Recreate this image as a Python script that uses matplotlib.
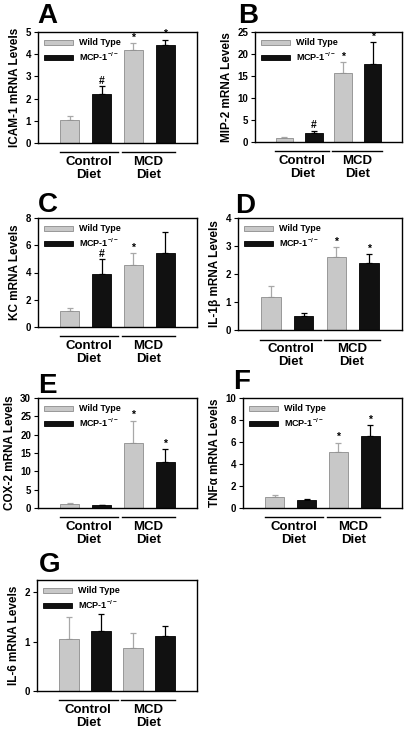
import matplotlib
matplotlib.use("Agg")
import matplotlib.pyplot as plt
from matplotlib.patches import Patch
from matplotlib.transforms import blended_transform_factory

plt.rcParams['font.family'] = ['Liberation Sans', 'DejaVu Sans']
plt.rcParams['font.weight'] = 'bold'
plt.rcParams['mathtext.fontset'] = 'custom'
plt.rcParams['mathtext.rm'] = 'Liberation Sans:bold'
plt.rcParams['mathtext.it'] = 'Liberation Sans:bold'
plt.rcParams['mathtext.bf'] = 'Liberation Sans:bold'

groups = ["Control\nDiet", "MCD\nDiet"]
series = ["Wild Type", "MCP-1$^{-/-}$"]

panel_letters = ["A", "B", "C", "D", "E", "F", "G"]
ylabels = ["ICAM-1 mRNA Levels", "MIP-2 mRNA Levels", "KC mRNA Levels",
           "IL-1β mRNA Levels", "COX-2 mRNA Levels", "TNFα mRNA Levels",
           "IL-6 mRNA Levels"]
ymax = [5, 25, 8, 4, 30, 10, 2.25]
ystep = [1, 5, 2, 1, 5, 2, 1]

# values order: WT control, MCP control, WT MCD, MCP MCD
means = [
    [1.05, 2.2, 4.18, 4.4],
    [1.0, 2.1, 15.6, 17.7],
    [1.2, 3.88, 4.58, 5.44],
    [1.17, 0.49, 2.62, 2.4],
    [1.2, 0.8, 17.8, 12.5],
    [1.04, 0.7, 5.05, 6.58],
    [1.05, 1.22, 0.87, 1.11],
]
errs = [
    [0.18, 0.35, 0.32, 0.26],
    [0.12, 0.45, 2.5, 5.0],
    [0.22, 1.08, 0.82, 1.5],
    [0.4, 0.13, 0.33, 0.3],
    [0.15, 0.15, 6.0, 3.6],
    [0.18, 0.14, 0.9, 0.95],
    [0.45, 0.35, 0.3, 0.2],
]
marks = [
    ["", "#", "*", "*"],
    ["", "#", "*", "*"],
    ["", "#", "*", ""],
    ["", "", "*", "*"],
    ["", "", "*", "*"],
    ["", "", "*", "*"],
    ["", "", "", ""],
]

W, H = 407, 736
# axes boxes in pixels: left, top, right, bottom
boxes = [
    (38, 32, 197, 143),
    (255, 32, 402, 142),
    (38, 218, 197, 327),
    (238, 218, 402, 330),
    (38, 398, 197, 508),
    (243, 398, 402, 508),
    (37, 580, 197, 691),
]
# panel letter positions (left x, baseline y) in pixels
letter_pos = [(37, 23), (238, 23), (38, 212), (235, 213),
              (38, 393), (233, 389), (39, 572)]

fig = plt.figure(figsize=(W / 100, H / 100), dpi=100)

xpos = [1, 2, 3, 4]
colors = ['#c8c8c8', '#111111']
edgecols = ['#8c8c8c', '#000000']
errcols = ['#a8a8a8', '#000000']

for i in range(7):
    l, t, r, b = boxes[i]
    ax = fig.add_axes([l / W, 1 - b / H, (r - l) / W, (b - t) / H])
    for j in range(4):
        s = j % 2
        ax.bar(xpos[j], means[i][j], width=0.6, color=colors[s],
               edgecolor=edgecols[s], linewidth=0.6, zorder=2)
        ax.errorbar(xpos[j], means[i][j], yerr=[[0], [errs[i][j]]],
                    fmt='none', ecolor=errcols[s], elinewidth=0.9,
                    capsize=2.2, capthick=0.9, zorder=1)
        if marks[i][j]:
            ax.text(xpos[j], means[i][j] + errs[i][j] + ymax[i] * 0.005,
                    marks[i][j], ha='center', va='bottom', fontsize=7.5,
                    fontweight='bold', clip_on=False)
    ax.set_xlim(0, 5)
    ax.set_ylim(0, ymax[i])
    ticks = []
    v = 0
    while v <= ymax[i] + 1e-9:
        ticks.append(v)
        v += ystep[i]
    ax.set_yticks(ticks)
    ax.set_yticklabels([f"{int(tk)}" for tk in ticks])
    ax.set_xticks([])
    ax.tick_params(axis='y', direction='out', length=3, width=0.8,
                   labelsize=7, pad=2)
    for sp in ax.spines.values():
        sp.set_linewidth(1.0)
    ax.set_ylabel(ylabels[i], fontsize=8.5, fontweight='bold', labelpad=3)
    lx, ly = letter_pos[i]
    fig.text(lx / W, 1 - ly / H, panel_letters[i],
             fontsize=20, fontweight='bold', ha='left', va='baseline')
    trans = blended_transform_factory(ax.transData, ax.transAxes)
    for g, (x0, x1) in enumerate([(0.68, 2.53), (2.63, 4.32)]):
        ax.plot([x0, x1], [-0.085, -0.085], color='black', lw=1.0,
                transform=trans, clip_on=False)
        ax.text((x0 + x1) / 2, -0.12, groups[g], transform=trans,
                ha='center', va='top', fontsize=9.5, fontweight='bold',
                linespacing=1.1)
    handles = [Patch(facecolor=colors[k], edgecolor=edgecols[k], linewidth=0.6)
               for k in range(2)]
    ax.legend(handles, series, loc='upper left', frameon=False,
              handlelength=3.2, handleheight=0.45,
              borderaxespad=0.3, labelspacing=0.35, handletextpad=0.6,
              prop={'weight': 'bold', 'size': 6.5})

fig.savefig("out.png", dpi=100)
